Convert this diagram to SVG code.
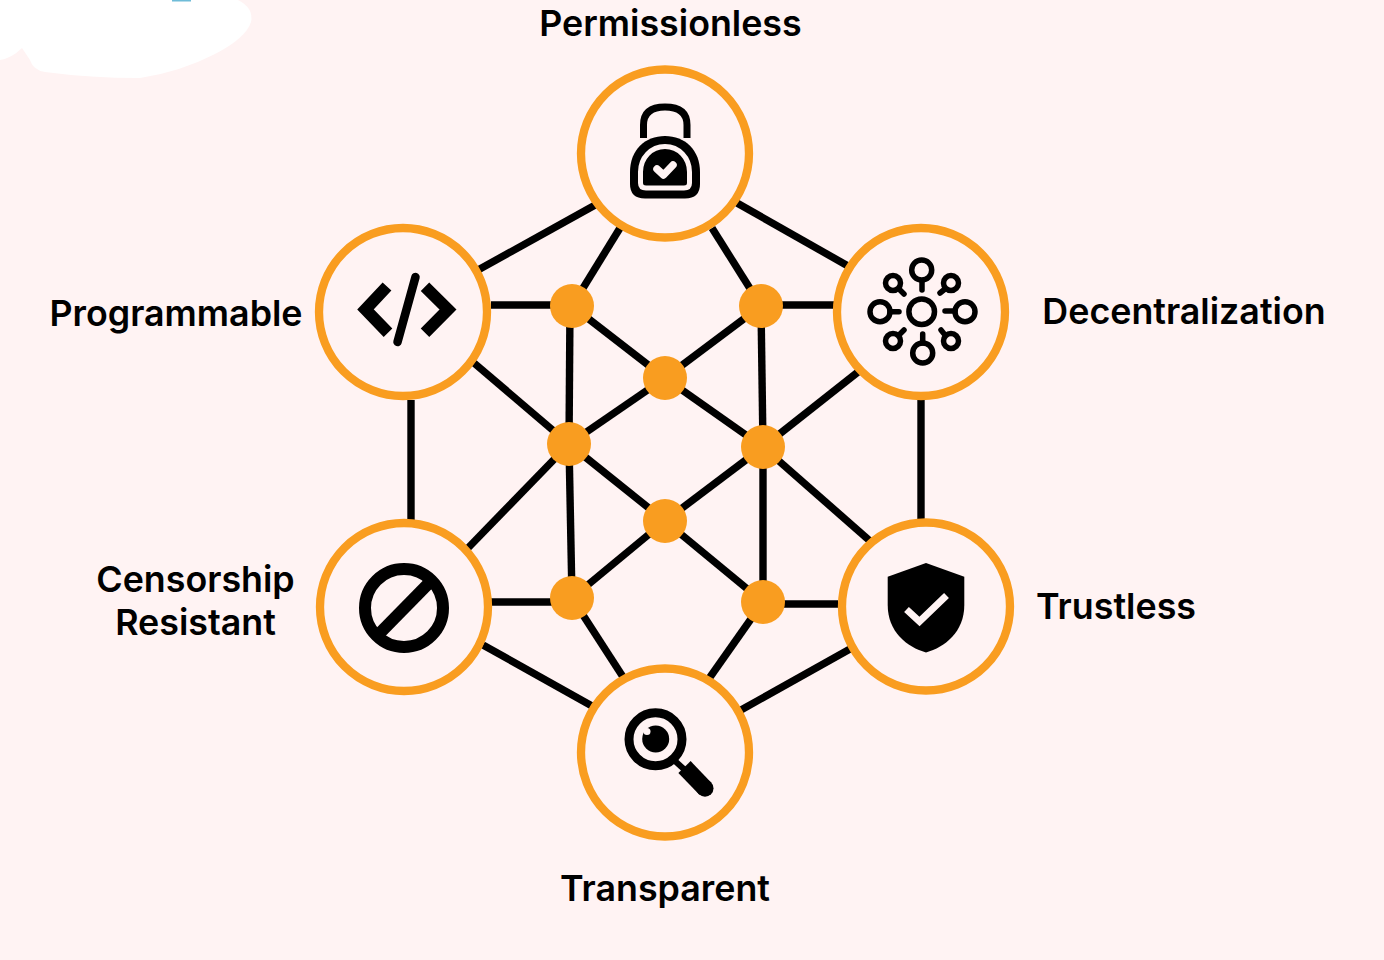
<svg xmlns="http://www.w3.org/2000/svg" width="1384" height="960" viewBox="0 0 1384 960">
<style>
.ring{fill:#fff3f3;stroke:#f99d20;stroke-width:8.300}
.dot{fill:#f99d20}
.c line{stroke:#000;stroke-width:7.400}
.l{font-family:Inter,"Liberation Sans",sans-serif;font-weight:600;font-size:35.800px;fill:#000;text-anchor:middle}
.s{fill:none;stroke:#000;stroke-width:5.500;stroke-linecap:round}
.k{fill:#000}
</style>
<rect width="1384" height="960" fill="#fff3f3"/>
<path id="patch" d="M0 0H238Q254 8 251 22Q246 38 215 54Q180 72 140 78Q90 78 45 72Q33 70 30 60L22 48Q12 58 0 60Z" fill="#fff"/>
<rect x="172" y="0" width="19" height="1.500" fill="#6fbcd8"/>
<g id="connectors" class="c">
<line x1="597" y1="204" x2="478" y2="270"/>
<line x1="737" y1="203" x2="848" y2="266"/>
<line x1="620" y1="228" x2="572" y2="306"/>
<line x1="712" y1="228" x2="761" y2="306"/>
<line x1="491" y1="305" x2="572" y2="305"/>
<line x1="761" y1="305" x2="835" y2="305"/>
<line x1="572" y1="306" x2="665" y2="378"/>
<line x1="665" y1="378" x2="763" y2="447"/>
<line x1="763" y1="447" x2="870" y2="541"/>
<line x1="474" y1="363" x2="569" y2="444"/>
<line x1="569" y1="444" x2="665" y2="521"/>
<line x1="665" y1="521" x2="763" y2="602"/>
<line x1="858" y1="372" x2="763" y2="447"/>
<line x1="763" y1="447" x2="665" y2="521"/>
<line x1="665" y1="521" x2="572" y2="598"/>
<line x1="761" y1="306" x2="665" y2="378"/>
<line x1="665" y1="378" x2="569" y2="444"/>
<line x1="569" y1="444" x2="468" y2="548"/>
<line x1="411" y1="400" x2="411" y2="520"/>
<line x1="921" y1="400" x2="921" y2="520"/>
<line x1="570" y1="306" x2="569" y2="444"/>
<line x1="569" y1="444" x2="572" y2="598"/>
<line x1="761" y1="306" x2="763" y2="447"/>
<line x1="763" y1="447" x2="763" y2="602"/>
<line x1="491" y1="602" x2="572" y2="602"/>
<line x1="763" y1="604" x2="838" y2="604"/>
<line x1="572" y1="598" x2="625" y2="680"/>
<line x1="763" y1="602" x2="708" y2="680"/>
<line x1="483" y1="645" x2="592" y2="706"/>
<line x1="850" y1="649" x2="741" y2="710"/>
</g>
<g id="junctions" class="dot">
<circle cx="572" cy="306" r="22"/><circle cx="761" cy="306" r="22"/>
<circle cx="665" cy="378" r="22"/><circle cx="569" cy="444" r="22"/>
<circle cx="763" cy="447" r="22"/><circle cx="665" cy="521" r="22"/>
<circle cx="572" cy="598" r="22"/><circle cx="763" cy="602" r="22"/>
</g>
<g id="permissionless">
<circle class="ring" cx="665" cy="153.500" r="84"/>
<path d="M643.500 138V125Q643.500 107 665 107Q687 107 687 125V138" fill="none" stroke="#000" stroke-width="7"/>
<path class="k" d="M665 136C685 136 700 150 700 172V184Q700 198.500 685 198.500H645Q630 198.500 630 184V172C630 150 645 136 665 136Z"/>
<path d="M665 146.500C651 146.500 640.500 158 640.500 172V183Q640.500 188 646 188H684Q689.500 188 689.500 183V172C689.500 158 679 146.500 665 146.500Z" fill="#000" stroke="#fff3f3" stroke-width="5"/>
<path d="M657 169L663.500 175L673 165" fill="none" stroke="#fff3f3" stroke-width="7.500" stroke-linecap="round" stroke-linejoin="round"/>
<text class="l" x="670.500" y="36">Permissionless</text>
</g>
<g id="decentralization">
<circle class="ring" cx="921" cy="312" r="84"/>
<g class="s">
<circle cx="921.700" cy="311.700" r="12.800"/>
<circle cx="921.700" cy="270" r="10"/><line x1="922" y1="281" x2="922" y2="290"/>
<circle cx="922.700" cy="353" r="10"/><line x1="922.700" y1="334" x2="922.700" y2="343"/>
<circle cx="880" cy="311.700" r="10"/><line x1="890" y1="311.700" x2="899" y2="311.700"/>
<circle cx="965" cy="311.700" r="10"/><line x1="945" y1="311" x2="955" y2="311"/>
<circle cx="893" cy="283" r="7.500"/><line x1="899" y1="289" x2="904" y2="294"/>
<circle cx="951" cy="283" r="7.500"/><line x1="945" y1="289" x2="940" y2="293"/>
<circle cx="893" cy="341" r="7.500"/><line x1="899" y1="335" x2="904" y2="330"/>
<circle cx="951" cy="341" r="7.500"/><line x1="945" y1="335" x2="941" y2="330"/>
</g>
<text class="l" x="1184" y="324">Decentralization</text>
</g>
<g id="programmable">
<circle class="ring" cx="403" cy="312" r="84"/>
<path d="M387 286.500L365.500 309.500L388 332.700" fill="none" stroke="#000" stroke-width="12" stroke-linejoin="miter"/>
<path d="M425 286.700L448 309.500L425 332.700" fill="none" stroke="#000" stroke-width="12" stroke-linejoin="miter"/>
<line x1="415.500" y1="277" x2="397.500" y2="342" stroke="#000" stroke-width="8.500" stroke-linecap="round"/>
<text class="l" x="176" y="325.500">Programmable</text>
</g>
<g id="censorship-resistant">
<circle class="ring" cx="404" cy="607" r="84"/>
<circle cx="404" cy="608" r="39" fill="none" stroke="#000" stroke-width="12"/>
<line x1="377" y1="636" x2="431" y2="581" stroke="#000" stroke-width="12"/>
<text class="l" x="195.500" y="591.500">Censorship</text>
<text class="l" x="195.500" y="635">Resistant</text>
</g>
<g id="trustless">
<circle class="ring" cx="926" cy="606.500" r="84"/>
<path class="k" d="M926 563L964.300 576.700V605C964.300 632 945 647 926 652.500C907 647 887.700 632 887.700 605V576.700Z"/>
<path d="M906.500 609.500L919.500 621.500L946.500 595.500" fill="none" stroke="#fff3f3" stroke-width="7"/>
<text class="l" x="1116" y="618.500">Trustless</text>
</g>
<g id="transparent">
<circle class="ring" cx="665" cy="752.500" r="84"/>
<circle cx="655.500" cy="739.300" r="26.500" fill="none" stroke="#000" stroke-width="9"/>
<circle class="k" cx="655.700" cy="739" r="13.500"/>
<circle cx="647" cy="731.500" r="3.500" fill="#fff3f3"/>
<line x1="675" y1="761" x2="686" y2="771" stroke="#000" stroke-width="6"/>
<path d="M684.500 767L705 788.300" fill="none" stroke="#000" stroke-width="17"/>
<circle class="k" cx="705" cy="788.300" r="8.500"/>
<text class="l" x="665" y="901">Transparent</text>
</g>
</svg>
